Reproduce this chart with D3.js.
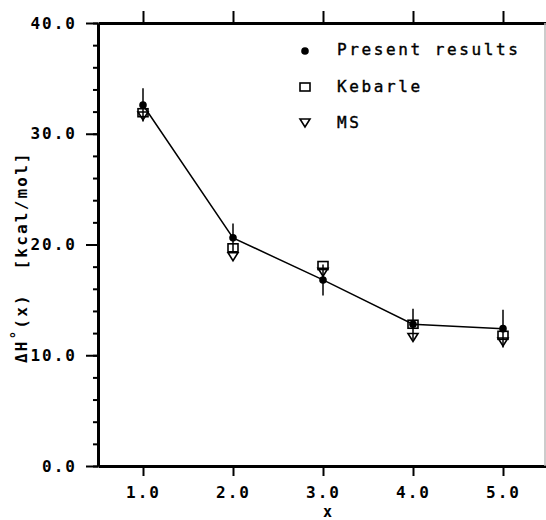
<!DOCTYPE html>
<html>
<head>
<meta charset="utf-8">
<script src="https://cdn.jsdelivr.net/npm/d3@7"></script>
<style>
  body { margin: 0; background: #fff; }
  svg { display: block; }
  .tick text { font-family: "DejaVu Sans Mono", monospace; font-weight: bold; font-size: 16px; letter-spacing: 2px; fill: #000; }
</style>
</head>
<body>
<div id="chart"></div>
<script>
// Cluster size x vs. enthalpy of formation (kcal/mol)
const xs = [1, 2, 3, 4, 5];
const present = [32.6, 20.6, 16.8, 12.8, 12.4];
const presentErr = [1.5, 1.3, 1.4, 1.4, 1.7];
const kebarle = [31.9, 19.7, 18.1, 12.8, 11.8];
const ms = [31.6, 18.9, 17.5, 11.6, 11.2];

const xTicks = [1, 2, 3, 4, 5];
const yMajor = [0, 10, 20, 30, 40];
const yMinor = d3.range(0, 41, 2);

const legendItems = ['Present results', 'Kebarle', 'MS'];

const width = 546, height = 520;
const margin = { left: 98, top: 23, bottom: 54 };

const svg = d3.select('#chart').append('svg')
    .attr('width', width)
    .attr('height', height);

const x = d3.scaleLinear().domain([0.5, 5.5]).range([margin.left, 548]);
const y = d3.scaleLinear().domain([0, 40]).range([height - margin.bottom, margin.top]);

// Axes
function styleAxis(g) {
    g.select('.domain').attr('stroke-width', 3).attr('stroke', '#000');
    g.selectAll('.tick line').attr('stroke-width', 2).attr('stroke', '#000');
}

svg.append('g')
    .attr('transform', `translate(${margin.left},0)`)
    .call(d3.axisLeft(y).tickValues(yMinor).tickSize(5).tickFormat('').tickSizeOuter(0))
    .call(styleAxis);

svg.append('g')
    .attr('transform', `translate(${margin.left},0)`)
    .call(d3.axisLeft(y).tickValues(yMajor).tickSize(12).tickPadding(9).tickFormat(d3.format('.1f')).tickSizeOuter(0))
    .call(styleAxis);

svg.append('g')
    .attr('transform', `translate(0,${y(0)})`)
    .call(d3.axisBottom(x).tickValues(xTicks).tickSize(10).tickPadding(11).tickFormat(d3.format('.1f')).tickSizeOuter(0))
    .call(styleAxis);

svg.append('g')
    .attr('transform', `translate(0,${y(40)})`)
    .call(d3.axisTop(x).tickValues(xTicks).tickSize(12).tickFormat('').tickSizeOuter(0))
    .call(styleAxis);

// faint right edge of the frame
svg.append('line')
    .attr('x1', 545).attr('x2', 545)
    .attr('y1', y(40)).attr('y2', y(0))
    .attr('stroke', '#bbb').attr('stroke-width', 1.5);

// Axis titles
const yTitle = svg.append('text')
    .attr('transform', `translate(27,${y(9.3)}) rotate(-90)`)
    .attr('font-family', '"DejaVu Sans Mono", monospace')
    .attr('font-weight', 'bold')
    .attr('font-size', 16)
    .attr('letter-spacing', 2.2)
    .attr('xml:space', 'preserve');
yTitle.append('tspan').text('ΔH');
yTitle.append('tspan').attr('dy', -6).attr('font-size', 14).text('°');
yTitle.append('tspan').attr('dy', 6).text('(x)  [kcal/mol]');

svg.append('text')
    .attr('x', x(3.05)).attr('y', 517)
    .attr('text-anchor', 'middle')
    .attr('font-family', '"DejaVu Sans Mono", monospace')
    .attr('font-weight', 'bold')
    .attr('font-size', 15)
    .text('x');

// Symbols
const sqSize = 10, triW = 10, triH = 8;
function drawSquare(g, cx, cy) {
    g.append('rect')
        .attr('x', cx - sqSize / 2).attr('y', cy - sqSize / 2 + 1)
        .attr('width', sqSize).attr('height', sqSize - 2)
        .attr('fill', 'none').attr('stroke', '#000').attr('stroke-width', 1.6);
}
function drawTriangle(g, cx, cy) {
    g.append('path')
        .attr('d', `M${cx - triW / 2},${cy - triH / 2}L${cx + triW / 2},${cy - triH / 2}L${cx},${cy + triH / 2}Z`)
        .attr('fill', 'none').attr('stroke', '#000').attr('stroke-width', 1.6);
}
function drawDot(g, cx, cy) {
    g.append('circle').attr('cx', cx).attr('cy', cy).attr('r', 3.8).attr('fill', '#000');
}

const marks = svg.append('g');

// connecting line through present results
marks.append('path')
    .datum(xs.map((d, i) => [d, present[i]]))
    .attr('fill', 'none')
    .attr('stroke', '#000')
    .attr('stroke-width', 1.5)
    .attr('d', d3.line().x(d => x(d[0])).y(d => y(d[1])));

// error bars
xs.forEach((d, i) => {
    marks.append('line')
        .attr('x1', x(d)).attr('x2', x(d))
        .attr('y1', y(present[i] + presentErr[i]))
        .attr('y2', y(present[i] - presentErr[i]))
        .attr('stroke', '#000').attr('stroke-width', 1.5);
});

xs.forEach((d, i) => drawTriangle(marks, x(d), y(ms[i])));
xs.forEach((d, i) => drawSquare(marks, x(d), y(kebarle[i])));
xs.forEach((d, i) => drawDot(marks, x(d), y(present[i])));

// Legend
const legend = svg.append('g');
const legendDraw = [drawDot, drawSquare, drawTriangle];
legendItems.forEach((name, i) => {
    const ly = 51 + i * 36;
    legendDraw[i](legend, 305, ly);
    legend.append('text')
        .attr('x', 337).attr('y', ly + 4 + (i === 0 ? 0 : 1))
        .attr('font-family', '"DejaVu Sans Mono", monospace')
        .attr('font-size', 16)
        .attr('letter-spacing', 2.6)
        .attr('stroke', '#000').attr('stroke-width', 0.4)
        .text(name);
});
</script>
</body>
</html>
